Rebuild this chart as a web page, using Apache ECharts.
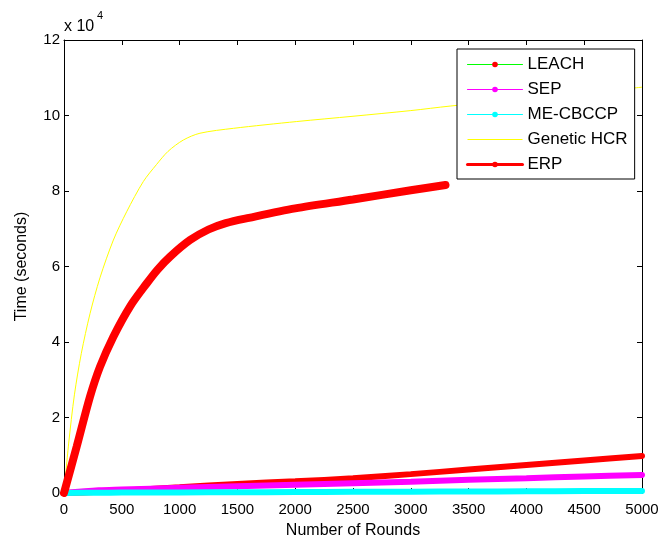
<!DOCTYPE html>
<html>
<head>
<meta charset="utf-8">
<script src="https://cdn.jsdelivr.net/npm/echarts@6/dist/echarts.min.js"></script>
<style>
html,body{margin:0;padding:0;background:#fff;}
#chart{width:661px;height:538px;}
</style>
</head>
<body>
<div id="chart"></div>
<script>
// ---- data (y in seconds) ----
const seriesNames = ['LEACH', 'SEP', 'ME-CBCCP', 'Genetic HCR', 'ERP'];
const xTicks = [0, 500, 1000, 1500, 2000, 2500, 3000, 3500, 4000, 4500, 5000];
const yTicks = [0, 2, 4, 6, 8, 10, 12]; // x 10^4

const baseRounds = [0, 300, 500, 1000, 1500, 2000, 2500, 3000, 3500, 4000, 4500, 5000];
const leachTime  = [0, 300, 600, 1500, 2400, 3100, 3900, 5000, 6200, 7400, 8600, 9800];
const sepTime    = [0, 700, 900, 1400, 1800, 2200, 2600, 3000, 3500, 3900, 4400, 4800];
const mecbccpTime= [0, 80, 100, 150, 200, 250, 300, 350, 400, 450, 500, 550];

const hcrRounds = [0, 40, 90, 150, 225, 311, 427, 542, 686, 800, 900, 1032, 1176, 1465, 2013, 2500, 3000, 3340, 4000, 5000];
const hcrTime   = [0, 13000, 26000, 37000, 47500, 57000, 67000, 74500, 82500, 87000, 90500, 93500, 95300, 96600, 98400, 99800, 101300, 102500, 104500, 107500];

const erpRounds = [0, 110, 225, 311, 427, 571, 715, 810, 917, 1090, 1250, 1400, 1600, 2000, 2500, 3000, 3300];
const erpTime   = [0, 12300, 25500, 33400, 41400, 49400, 55500, 59200, 62600, 67000, 69800, 71500, 72900, 75400, 77750, 80200, 81600];

function pairs(xs, ys){ return xs.map((x,i)=>[x, ys[i]]); }

const FONT = '"Liberation Sans", Arial, sans-serif';
const chart = echarts.init(document.getElementById('chart'), null, {renderer:'canvas'});

const axisCommon = {
  axisLine:{show:true, onZero:false, lineStyle:{color:'#000', width:1}},
  axisTick:{show:true, inside:true, length:5, lineStyle:{color:'#000', width:1}},
  splitLine:{show:false}
};

chart.setOption({
  backgroundColor:'#fff',
  animation:false,
  textStyle:{fontFamily:FONT},
  grid:{left:64, right:19, top:40, bottom:45, containLabel:false, outerBoundsMode:'none'},
  xAxis:[
    Object.assign({
      type:'value', min:xTicks[0], max:xTicks[xTicks.length-1], interval:500, position:'bottom',
      name:'Number of Rounds', nameLocation:'middle', nameGap:30,
      nameTextStyle:{color:'#000', fontSize:16, fontFamily:FONT},
      axisLabel:{color:'#000', fontSize:15, margin:9, fontFamily:FONT,
        formatter:v => String(xTicks[Math.round(v/500)])}
    }, axisCommon),
    Object.assign({
      type:'value', min:0, max:5000, interval:500, position:'top',
      axisLabel:{show:false}
    }, axisCommon)
  ],
  yAxis:[
    Object.assign({
      type:'value', min:0, max:120000, interval:20000, position:'left',
      name:'Time (seconds)', nameLocation:'middle', nameGap:34,
      nameTextStyle:{color:'#000', fontSize:16, fontFamily:FONT},
      axisLabel:{color:'#000', fontSize:15, margin:4, fontFamily:FONT,
        formatter:v => String(yTicks[Math.round(v/20000)])}
    }, axisCommon),
    Object.assign({
      type:'value', min:0, max:120000, interval:20000, position:'right',
      axisLabel:{show:false}
    }, axisCommon)
  ],
  legend:{
    orient:'vertical', left:457, top:49,
    backgroundColor:'#fff', borderColor:'#000', borderWidth:1, borderRadius:0,
    padding:[7,7,6,9],
    itemWidth:55, itemHeight:7, itemGap:8,
    textStyle:{color:'#000', fontSize:17, lineHeight:17, fontFamily:FONT},
    data:[
      {name:seriesNames[0], lineStyle:{color:'#00ff00', width:1}, itemStyle:{color:'#ff0000'}},
      {name:seriesNames[1], lineStyle:{color:'#ff00ff', width:1}, itemStyle:{color:'#ff00ff'}},
      {name:seriesNames[2], lineStyle:{color:'#00ffff', width:1}, itemStyle:{color:'#00ffff'}},
      {name:seriesNames[3], lineStyle:{color:'#ffff00', width:1}, itemStyle:{color:'#ffff00', opacity:0}},
      {name:seriesNames[4], lineStyle:{color:'#ff0000', width:3}, itemStyle:{color:'#ff0000'}}
    ]
  },
  graphic:[
    {type:'text', left:64, top:19, style:{text:'x 10', font:'16px "Liberation Sans", Arial, sans-serif', fill:'#000'}},
    {type:'text', left:97, top:10, style:{text:'4', font:'11px "Liberation Sans", Arial, sans-serif', fill:'#000'}}
  ],
  series:[
    {name:seriesNames[0], type:'line', smooth:0.3, symbol:'circle', showSymbol:false,
      data:pairs(baseRounds, leachTime), itemStyle:{color:'#ff0000'},
      lineStyle:{color:'#ff0000', width:6, cap:'round'}},
    {name:seriesNames[1], type:'line', smooth:0.3, symbol:'circle', showSymbol:false,
      data:pairs(baseRounds, sepTime), itemStyle:{color:'#ff00ff'},
      lineStyle:{color:'#ff00ff', width:6, cap:'round'}},
    {name:seriesNames[2], type:'line', smooth:0.3, symbol:'circle', showSymbol:false,
      data:pairs(baseRounds, mecbccpTime), itemStyle:{color:'#00ffff'},
      lineStyle:{color:'#00ffff', width:6, cap:'round'}},
    {name:seriesNames[3], type:'line', smooth:0.3, symbol:'none',
      data:pairs(hcrRounds, hcrTime), itemStyle:{color:'#ffff00'},
      lineStyle:{color:'#ffff00', width:1}},
    {name:seriesNames[4], type:'line', smooth:0.3, symbol:'circle', showSymbol:false,
      data:pairs(erpRounds, erpTime), itemStyle:{color:'#ff0000'},
      lineStyle:{color:'#ff0000', width:8, cap:'round'}}
  ]
});
</script>
</body>
</html>
